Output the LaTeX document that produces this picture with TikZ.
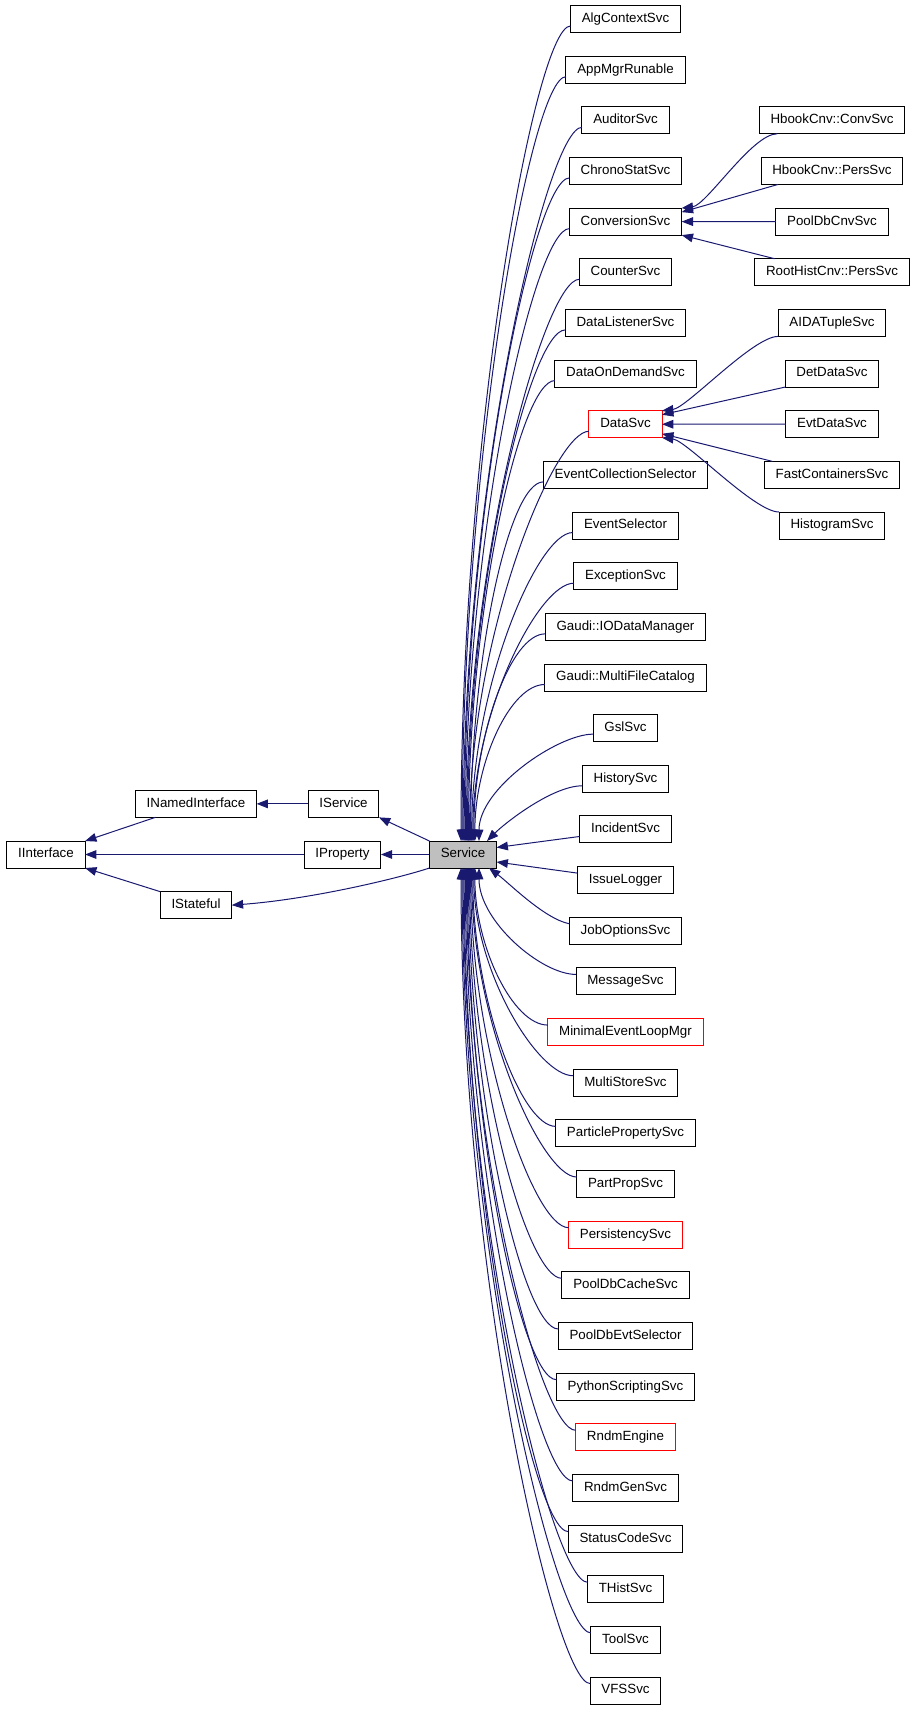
\documentclass[tikz,border=0pt]{standalone}
\usepackage{fontspec}
\setmainfont{Liberation Sans}
\usetikzlibrary{arrows.meta,positioning}
\definecolor{inhblue}{RGB}{25,25,112}
\definecolor{undocred}{RGB}{255,0,0}
\definecolor{curgray}{RGB}{191,191,191}
\begin{document}
\begin{tikzpicture}[x=0.75pt,y=-0.75pt,every node/.style={outer sep=0pt},
 node distance=17.74pt,
 cls/.style={draw,line width=0.75pt,font=\fontsize{10pt}{12pt}\selectfont,
 inner xsep=8.5pt,inner ysep=2pt,minimum height=20.25pt,text height=7.2pt,text depth=2.1pt},
 clsred/.style={cls,draw=undocred},
 clscur/.style={cls,fill=curgray},
 inh/.style={draw=inhblue,line width=0.75pt,-{Triangle[length=8.5pt,width=6.5pt]}}]
\useasboundingbox (0,0) rectangle (914,1709);

\node[cls] (iint) at (46,854.5) {IInterface};
\node[cls] (inamed) at (196,803.85) {INamedInterface};
\node[cls] (istate) at (196,905.15) {IStateful};
\node[cls] (iserv) at (343.5,803.85) {IService};
\node[cls] (iprop) at (342.5,854.5) {IProperty};
\node[clscur] (svc) at (463,854.5) {Service};

\node[cls] (algctx) at (625.5,19) {AlgContextSvc};
\node[cls,below=of algctx] (appmgr) {AppMgrRunable};
\node[cls,below=of appmgr] (auditor) {AuditorSvc};
\node[cls,below=of auditor] (chrono) {ChronoStatSvc};
\node[cls,below=of chrono] (conv) {ConversionSvc};
\node[cls,below=of conv] (counter) {CounterSvc};
\node[cls,below=of counter] (dlisten) {DataListenerSvc};
\node[cls,below=of dlisten] (dondem) {DataOnDemandSvc};
\node[clsred,below=of dondem] (dsvc) {DataSvc};
\node[cls,below=of dsvc] (evcoll) {EventCollectionSelector};
\node[cls,below=of evcoll] (evsel) {EventSelector};
\node[cls,below=of evsel] (excpt) {ExceptionSvc};
\node[cls,below=of excpt] (iodata) {Gaudi::IODataManager};
\node[cls,below=of iodata] (mfcat) {Gaudi::MultiFileCatalog};
\node[cls,below=of mfcat] (gsl) {GslSvc};
\node[cls,below=of gsl] (histsvc) {HistorySvc};
\node[cls,below=of histsvc] (incid) {IncidentSvc};
\node[cls,below=of incid] (issue) {IssueLogger};
\node[cls,below=of issue] (jobopt) {JobOptionsSvc};
\node[cls,below=of jobopt] (msg) {MessageSvc};
\node[clsred,below=of msg] (minimal) {MinimalEventLoopMgr};
\node[cls,below=of minimal] (multi) {MultiStoreSvc};
\node[cls,below=of multi] (ppsvc) {ParticlePropertySvc};
\node[cls,below=of ppsvc] (partprop) {PartPropSvc};
\node[clsred,below=of partprop] (persist) {PersistencySvc};
\node[cls,below=of persist] (pdbcache) {PoolDbCacheSvc};
\node[cls,below=of pdbcache] (pdbsel) {PoolDbEvtSelector};
\node[cls,below=of pdbsel] (python) {PythonScriptingSvc};
\node[clsred,below=of python] (rndmeng) {RndmEngine};
\node[cls,below=of rndmeng] (rndmgen) {RndmGenSvc};
\node[cls,below=of rndmgen] (stcode) {StatusCodeSvc};
\node[cls,below=of stcode] (thist) {THistSvc};
\node[cls,below=of thist] (tool) {ToolSvc};
\node[cls,below=of tool] (vfs) {VFSSvc};

\node[cls] (hconv) at (832,120.3) {HbookCnv::ConvSvc};
\node[cls,below=of hconv] (hpers) {HbookCnv::PersSvc};
\node[cls,below=of hpers] (pcnv) {PoolDbCnvSvc};
\node[cls,below=of pcnv] (rhist) {RootHistCnv::PersSvc};
\node[cls,below=of rhist] (aida) {AIDATupleSvc};
\node[cls,below=of aida] (det) {DetDataSvc};
\node[cls,below=of det] (evt) {EvtDataSvc};
\node[cls,below=of evt] (fast) {FastContainersSvc};
\node[cls,below=of fast] (histo) {HistogramSvc};

\draw[inh] (iserv.west) -- (inamed.east);
\draw[inh] ([xshift=15pt]inamed.south west) -- (iint.north east);
\draw[inh] (iprop.west) -- (iint.east);
\draw[inh] (istate.north west) -- (iint.south east);
\draw[inh] (svc.north west) -- (iserv.south east);
\draw[inh] (svc.west) -- (iprop.east);
\draw[inh] (svc.south west) .. controls +(-30,10) and +(80,-6) .. (istate.east);

\draw[inh] ([xshift=13.5pt]hconv.south west) .. controls +(-25,0) and +(25,-3) .. (conv.north east);
\draw[inh] ([xshift=12.75pt]hpers.south west) -- ([yshift=-3pt]conv.north east);
\draw[inh] (pcnv.west) -- (conv.east);
\draw[inh] ([xshift=15pt]rhist.north west) -- (conv.south east);

\draw[inh] (aida.south west) .. controls +(-25,0) and +(25,-3) .. (dsvc.north east);
\draw[inh] (det.south west) -- ([yshift=-3pt]dsvc.north east);
\draw[inh] (evt.west) -- (dsvc.east);
\draw[inh] ([xshift=6pt]fast.north west) -- ([yshift=3pt]dsvc.south east);
\draw[inh] (histo.north west) .. controls +(-25,0) and +(25,3) .. (dsvc.south east);

\draw[inh] ([yshift=-5.25pt]algctx.west) .. controls +(-35,0) and +(0,-408) .. ([xshift=-1.5pt]svc.north);
\draw[inh] ([yshift=-5.25pt]appmgr.west) .. controls +(-35,0) and +(0,-382) .. ([xshift=-0.7pt]svc.north);
\draw[inh] ([yshift=-5.25pt]auditor.west) .. controls +(-35,0) and +(0,-357) .. ([xshift=0.1pt]svc.north);
\draw[inh] ([yshift=-5.25pt]chrono.west) .. controls +(-35,0) and +(0,-332) .. ([xshift=0.9pt]svc.north);
\draw[inh] ([yshift=-5.25pt]conv.west) .. controls +(-35,0) and +(0,-306) .. ([xshift=1.7pt]svc.north);
\draw[inh] ([yshift=-5.25pt]counter.west) .. controls +(-35,0) and +(0,-281) .. ([xshift=2.5pt]svc.north);
\draw[inh] ([yshift=-5.25pt]dlisten.west) .. controls +(-35,0) and +(0,-256) .. ([xshift=3.3pt]svc.north);
\draw[inh] ([yshift=-5.25pt]dondem.west) .. controls +(-35,0) and +(0,-230) .. ([xshift=4.1pt]svc.north);
\draw[inh] ([yshift=-5.25pt]dsvc.west) .. controls +(-35,0) and +(0,-205) .. ([xshift=4.9pt]svc.north);
\draw[inh] ([yshift=-5.25pt]evcoll.west) .. controls +(-35,0) and +(0,-180) .. ([xshift=5.7pt]svc.north);
\draw[inh] ([yshift=-5.25pt]evsel.west) .. controls +(-35,0) and +(0,-154) .. ([xshift=6.5pt]svc.north);
\draw[inh] ([yshift=-5.25pt]excpt.west) .. controls +(-35,0) and +(0,-129) .. ([xshift=7.3pt]svc.north);
\draw[inh] ([yshift=-5.25pt]iodata.west) .. controls +(-35,0) and +(0,-104) .. ([xshift=8.1pt]svc.north);
\draw[inh] ([yshift=-5.25pt]mfcat.west) .. controls +(-35,0) and +(0,-78) .. ([xshift=8.9pt]svc.north);
\draw[inh] ([yshift=-4.5pt]gsl.west) .. controls +(-35,0) and +(0,-53) .. ([xshift=12pt]svc.north);
\draw[inh] ([yshift=-5.25pt]histsvc.west) .. controls +(-30,0) and +(18,-18) .. ([xshift=18pt]svc.north);
\draw[inh] ([yshift=-5.25pt]incid.west) -- ([yshift=5.25pt]svc.east);
\draw[inh] ([yshift=5.25pt]issue.west) -- ([yshift=-5.6pt]svc.east);
\draw[inh] ([yshift=5.25pt]jobopt.west) .. controls +(-25,-5) and +(20,15) .. ([xshift=19.5pt]svc.south);
\draw[inh] ([yshift=5.25pt]msg.west) .. controls +(-35,0) and +(0,53) .. ([xshift=12pt]svc.south);
\draw[inh] ([yshift=5.25pt]minimal.west) .. controls +(-35,0) and +(0,78) .. ([xshift=8.9pt]svc.south);
\draw[inh] ([yshift=5.25pt]multi.west) .. controls +(-35,0) and +(0,104) .. ([xshift=8.1pt]svc.south);
\draw[inh] ([yshift=5.25pt]ppsvc.west) .. controls +(-35,0) and +(0,129) .. ([xshift=7.3pt]svc.south);
\draw[inh] ([yshift=5.25pt]partprop.west) .. controls +(-35,0) and +(0,154) .. ([xshift=6.5pt]svc.south);
\draw[inh] ([yshift=5.25pt]persist.west) .. controls +(-35,0) and +(0,180) .. ([xshift=5.7pt]svc.south);
\draw[inh] ([yshift=5.25pt]pdbcache.west) .. controls +(-35,0) and +(0,205) .. ([xshift=4.9pt]svc.south);
\draw[inh] ([yshift=5.25pt]pdbsel.west) .. controls +(-35,0) and +(0,230) .. ([xshift=4.1pt]svc.south);
\draw[inh] ([yshift=5.25pt]python.west) .. controls +(-35,0) and +(0,256) .. ([xshift=3.3pt]svc.south);
\draw[inh] ([yshift=5.25pt]rndmeng.west) .. controls +(-35,0) and +(0,281) .. ([xshift=2.5pt]svc.south);
\draw[inh] ([yshift=5.25pt]rndmgen.west) .. controls +(-35,0) and +(0,306) .. ([xshift=1.7pt]svc.south);
\draw[inh] ([yshift=5.25pt]stcode.west) .. controls +(-35,0) and +(0,332) .. ([xshift=0.9pt]svc.south);
\draw[inh] ([yshift=5.25pt]thist.west) .. controls +(-35,0) and +(0,357) .. ([xshift=0.1pt]svc.south);
\draw[inh] ([yshift=5.25pt]tool.west) .. controls +(-35,0) and +(0,382) .. ([xshift=-0.7pt]svc.south);
\draw[inh] ([yshift=5.25pt]vfs.west) .. controls +(-35,0) and +(0,408) .. ([xshift=-1.5pt]svc.south);
\end{tikzpicture}
\end{document}
